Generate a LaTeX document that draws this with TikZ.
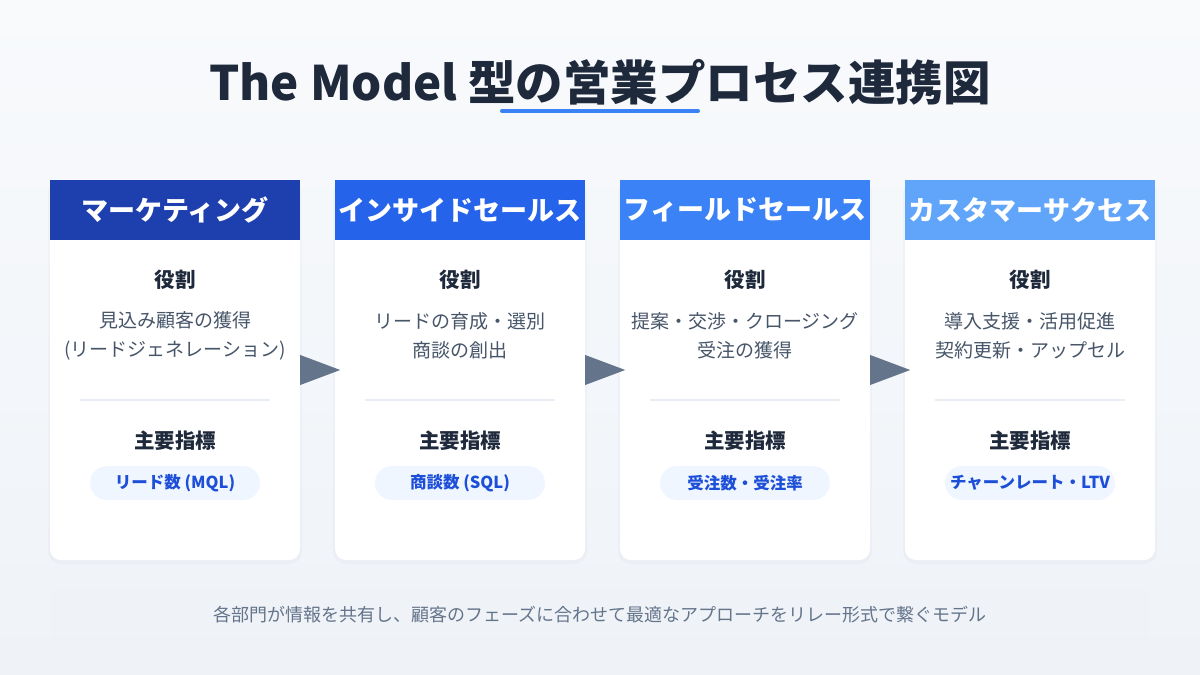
\documentclass[tikz,border=0pt]{standalone}
\usepackage{fontspec}
\setmainfont{Noto Sans CJK JP}
\usetikzlibrary{calc}
\definecolor{bgtop}{HTML}{F8FAFC}
\definecolor{bgbot}{HTML}{EFF3F8}
\definecolor{titlec}{HTML}{1E293B}
\definecolor{hA}{HTML}{1E40AF}
\definecolor{hB}{HTML}{2563EB}
\definecolor{hC}{HTML}{3B82F6}
\definecolor{hD}{HTML}{60A5FA}
\definecolor{descc}{HTML}{475569}
\definecolor{pillf}{HTML}{EFF6FF}
\definecolor{pillt}{HTML}{1D4ED8}
\definecolor{arrowc}{HTML}{64748B}
\definecolor{divc}{HTML}{E9EEF4}
\definecolor{footf}{HTML}{EEF2F7}
\definecolor{footc}{HTML}{64748B}
\definecolor{shadowc}{HTML}{94A3B8}
\tikzset{
  card/.style={draw=none, fill=white, rounded corners=11pt, minimum width=250pt, minimum height=380pt, inner sep=0pt},
  cardshadow/.style={fill=shadowc, fill opacity=0.06, rounded corners=13pt, minimum width=254pt, minimum height=384pt, inner sep=0pt},
  header/.style={fill=#1, minimum width=250pt, minimum height=60pt, inner sep=0pt, text=white, font=\fontsize{27}{30}\selectfont\bfseries},
  sectitle/.style={text=titlec, font=\fontsize{20.5}{24}\selectfont\bfseries, inner sep=0pt},
  desc/.style={text=descc, font=\fontsize{19}{29}\selectfont, align=center, inner sep=0pt},
  pill/.style={fill=pillf, rounded corners=17pt, minimum width=170pt, minimum height=34pt, inner sep=0pt, text=pillt, font=\fontsize{16.5}{19}\selectfont\bfseries},
  divider/.style={draw=divc, line width=1.5pt},
  tri/.style={fill=arrowc}
}
\begin{document}
\begin{tikzpicture}[x=1pt,y=-1pt]
\shade[top color=bgtop, bottom color=bgbot] (0,0) rectangle (1200,675);
\useasboundingbox (0,0) rectangle (1200,675);
% title
\node[text=titlec, font=\fontsize{47.5}{52}\selectfont\bfseries, inner sep=0pt] (title) at (600,82) {The Model 型の営業プロセス連携図};
\coordinate (ulA) at (502,111);
\coordinate (ulB) at (698,111);
\draw[draw=hC, line width=4pt, line cap=round] (ulA) -- (ulB);
% cards
\foreach \i/\x/\hc/\name in {1/175/hA/マーケティング, 2/460/hB/インサイドセールス, 3/745/hC/フィールドセールス, 4/1030/hD/カスタマーサクセス}{
  \node[cardshadow] (s\i) at (\x,372) {};
  \node[card] (c\i) at (\x,370) {};
  \node[header=\hc] (h\i) at (\x,210) {\name};
  \node[sectitle] (r\i) at (\x,280) {役割};
  \draw[divider] ($(c\i.west)+(30,30)$) -- ($(c\i.east)+(-30,30)$);
  \node[sectitle] (k\i) at (\x,441) {主要指標};
}
\node[desc] (d1) at (175,336) {見込み顧客の獲得\\(リードジェネレーション)};
\node[desc] (d2) at (460,336) {リードの育成・選別\\商談の創出};
\node[desc] (d3) at (745,336) {提案・交渉・クロージング\\受注の獲得};
\node[desc] (d4) at (1030,336) {導入支援・活用促進\\契約更新・アップセル};
\node[pill] (p1) at (175,483) {リード数 (MQL)};
\node[pill] (p2) at (460,483) {商談数 (SQL)};
\node[pill] (p3) at (745,483) {受注数・受注率};
\node[pill] (p4) at (1030,483) {チャーンレート・LTV};
% arrows
\foreach \i in {1,2,3}{
  \fill[tri] ($(c\i.east)+(0,-15)$) -- ($(c\i.east)+(40,0)$) -- ($(c\i.east)+(0,15)$) -- cycle;
}
% footer
\node[fill=footf, fill opacity=0.45, text opacity=1, minimum width=1100pt, minimum height=50pt, inner sep=0pt, text=footc, font=\fontsize{18}{20}\selectfont] (foot) at (600,615) {各部門が情報を共有し、顧客のフェーズに合わせて最適なアプローチをリレー形式で繋ぐモデル};
\end{tikzpicture}
\end{document}
